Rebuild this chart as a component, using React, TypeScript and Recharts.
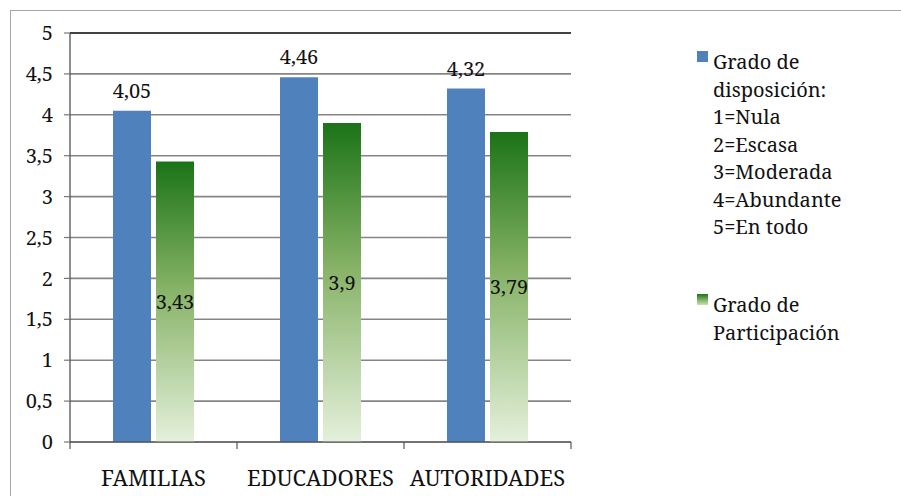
import React from "react";
import { BarChart, Bar, XAxis, YAxis, CartesianGrid, ReferenceLine, LabelList } from "recharts";

const categories = ["FAMILIAS", "EDUCADORES", "AUTORIDADES"];
const disposicion = [4.05, 4.46, 4.32];
const participacion = [3.43, 3.9, 3.79];
const yTicks = [0, 0.5, 1, 1.5, 2, 2.5, 3, 3.5, 4, 4.5, 5];
const legendItems = [
  { key: "disp", lines: ["Grado de", "disposición:", "1=Nula", "2=Escasa", "3=Moderada", "4=Abundante", "5=En todo"] },
  { key: "part", lines: ["Grado de", "Participación"] },
];

const data = categories.map((name, i) => ({ name, disp: disposicion[i], part: participacion[i] }));

const FONT = "'Noto Serif', 'DejaVu Serif', 'Liberation Serif', Times, 'Times New Roman', serif";
const BLUE = "#4f81bd";
const fmt = (v: any) => String(v).replace(".", ",");

function CatTick(props: any) {
  const { x, y, payload, index } = props;
  const half = payload && payload.offset ? payload.offset : 83.8;
  const last = index === categories.length - 1;
  return (
    <g>
      <line x1={x - half} x2={x - half} y1={y} y2={y + 7} stroke="#555" strokeWidth={1.2} />
      {last && <line x1={x + half} x2={x + half} y1={y} y2={y + 7} stroke="#555" strokeWidth={1.2} />}
      <text x={x} y={y + 44} textAnchor="middle" style={{ fontSize: 22, fontFamily: FONT }} fill="#111">
        {payload.value}
      </text>
    </g>
  );
}

export default function App() {
  return (
    <div style={{ position: "absolute", left: 0, top: 0, width: 901, height: 496, background: "#fff", overflow: "hidden", fontFamily: FONT }}>
      <div style={{ position: "absolute", left: 10, top: 10, width: 960, height: 560, border: "1px solid #a6a6a6" }} />
      <div style={{ position: "absolute", left: 0, top: 0 }}>
        <BarChart width={901} height={496} data={data} margin={{ top: 33, right: 330, bottom: 0, left: 0 }} barSize={38} barGap={5} style={{ fontFamily: FONT }}>
          <defs>
            <linearGradient id="greenGrad" x1="0" y1="0" x2="0" y2="1">
              <stop offset="0%" stopColor="#1b7317" />
              <stop offset="45%" stopColor="#86b266" />
              <stop offset="100%" stopColor="#e4f0db" />
            </linearGradient>
          </defs>
          <CartesianGrid vertical={false} stroke="#858585" strokeWidth={1.6} />
          <XAxis
            dataKey="name"
            height={54}
            tickSize={0}
            tickMargin={0}
            tickLine={false}
            axisLine={{ stroke: "#444", strokeWidth: 1.2 }}
            tick={<CatTick />}
            interval={0}
          />
          <YAxis
            domain={[0, 5]}
            ticks={yTicks}
            width={70}
            tickSize={6}
            tickMargin={11}
            tickFormatter={fmt}
            tick={{ fontSize: 20, fontFamily: FONT, fill: "#111" }}
            tickLine={{ stroke: "#777", strokeWidth: 1.2 }}
            axisLine={{ stroke: "#444", strokeWidth: 1.2 }}
          />
          <YAxis yAxisId="right" orientation="right" width={0} domain={[0, 5]} tick={false} tickLine={false} axisLine={{ stroke: "#333", strokeWidth: 1.2 }} />
          <ReferenceLine y={5} stroke="#222" strokeWidth={1.5} />
          <Bar dataKey="disp" fill={BLUE} isAnimationActive={false}>
            <LabelList dataKey="disp" position="top" offset={13} formatter={fmt} style={{ fontSize: 20, fontFamily: FONT, fill: "#111" }} />
          </Bar>
          <Bar dataKey="part" fill="url(#greenGrad)" isAnimationActive={false}>
            <LabelList dataKey="part" position="center" formatter={fmt} style={{ fontSize: 20, fontFamily: FONT, fill: "#111" }} />
          </Bar>
        </BarChart>
      </div>
      <div style={{ position: "absolute", left: 697, top: 48, fontSize: 20, lineHeight: "27.5px", color: "#111" }}>
        {legendItems.map((item, i) => (
          <div key={item.key} style={{ position: "absolute", top: i === 0 ? 0 : 243, left: 0, width: 200 }}>
            <div
              style={{
                position: "absolute",
                left: 0,
                top: 3,
                width: 11,
                height: 11,
                background: i === 0 ? BLUE : "linear-gradient(#1b7317, #86b266 55%, #c8e0b5)",
              }}
            />
            <div style={{ marginLeft: 16 }}>
              {item.lines.map((l) => (
                <div key={l}>{l}</div>
              ))}
            </div>
          </div>
        ))}
      </div>
    </div>
  );
}
